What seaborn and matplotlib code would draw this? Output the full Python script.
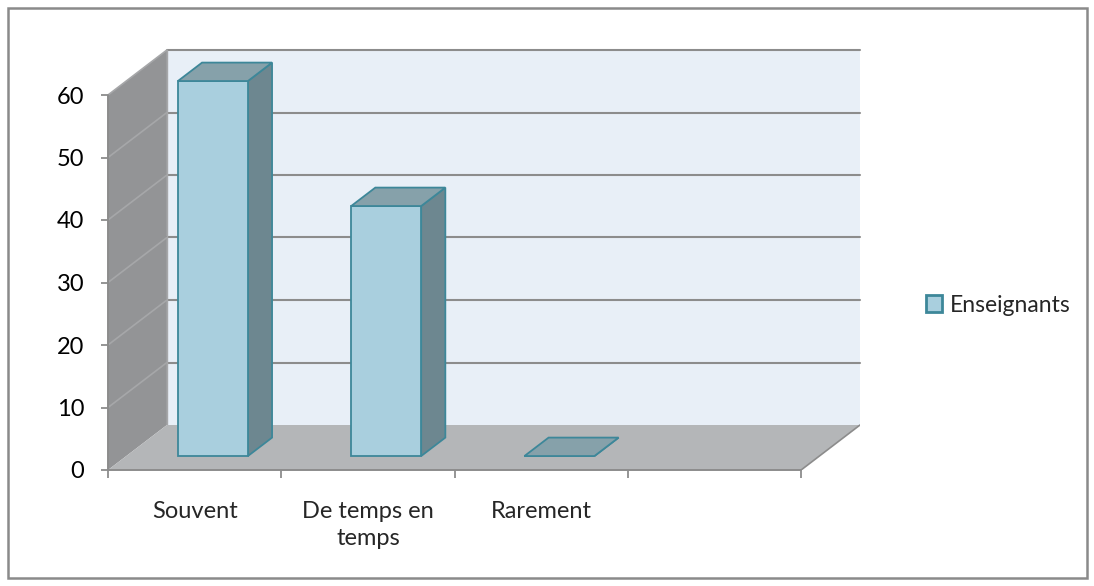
import numpy as np
import pandas as pd
import seaborn as sns
import matplotlib.pyplot as plt
from matplotlib.patches import Polygon, Rectangle, Patch

# valeurs du graphique (en %)
categories = ["Souvent", "De temps en temps", "Rarement", ""]
tick_labels = ["Souvent", "De temps en\ntemps", "Rarement", ""]
enseignants = [60, 40, 0, np.nan]
serie = "Enseignants"
y_ticks = [0, 10, 20, 30, 40, 50, 60]

df = pd.DataFrame({"cat": categories, "val": enseignants})

sns.set_theme(style="white")
plt.rcParams["font.family"] = ["Lato", "DejaVu Sans"]

# profondeur du faux 3D (en unites de donnees)
DX, DY = 0.34, 7.2
WALL = 60
BAR_W = 0.404
F0, DEPTH = 0.31, 0.41
FS = 17

fig = plt.figure(figsize=(10.94, 5.86), dpi=100)
ax = fig.add_axes([108 / 1094, (586 - 470) / 586,
                   (860 - 108) / 1094, (470 - 50) / 586])

# cadre exterieur
fig.patches.append(Rectangle((8 / 1094, 8 / 586), 1079 / 1094, 570 / 586,
                             transform=fig.transFigure, fill=False,
                             edgecolor="#8a8a8a", linewidth=1.8))

grid_c = "#8c8c8c"
x_left, x_right = -0.5, 3.5
# paroi du fond
ax.add_patch(Polygon([(x_left + DX, DY), (x_right + DX, DY),
                      (x_right + DX, WALL + DY), (x_left + DX, WALL + DY)],
                     closed=True, facecolor="#e8eff7", edgecolor="none",
                     zorder=0))
# paroi laterale
ax.add_patch(Polygon([(x_left, 0), (x_left + DX, DY), (x_left + DX, WALL + DY),
                      (x_left, WALL)], closed=True, facecolor="#939496",
                     edgecolor="none", zorder=1))
for v in y_ticks[1:]:
    ax.plot([x_left + DX, x_right + DX], [v + DY, v + DY], color=grid_c,
            lw=1.5, zorder=1.5, clip_on=False)
    ax.plot([x_left, x_left + DX], [v, v + DY], color="#a6a7a9", lw=1.2,
            zorder=1.5, clip_on=False)
ax.plot([x_left + DX, x_left + DX], [DY, WALL + DY], color="#a6a7a9", lw=1.0,
        zorder=1.6)
# sol
ax.add_patch(Polygon([(x_left, 0), (x_right, 0), (x_right + DX, DY),
                      (x_left + DX, DY)], closed=True, facecolor="#b4b6b8",
                     edgecolor="none", zorder=2))
ax.plot([x_right, x_right + DX], [0, DY], color=grid_c, lw=1.2, zorder=2.1)
ax.plot([x_left, x_right], [0, 0], color=grid_c, lw=1.4, zorder=2.1,
        clip_on=False)

# barres
edge = "#3d8799"
sns.barplot(data=df, x="cat", y="val", width=BAR_W, color="#a9cfde",
            saturation=1, edgecolor=edge, linewidth=1.3, ax=ax, zorder=4)
bars = list(ax.containers[0])
for p in bars:
    h = p.get_height()
    if np.isnan(h):
        continue
    x0 = p.get_x() + F0 * DX
    y0 = F0 * DY
    p.set_x(x0)
    p.set_y(y0)
    w = p.get_width()
    ddx, ddy = DEPTH * DX, DEPTH * DY
    ax.add_patch(Polygon([(x0 + w, y0), (x0 + w + ddx, y0 + ddy),
                          (x0 + w + ddx, y0 + h + ddy), (x0 + w, y0 + h)],
                         closed=True, facecolor="#6d8790", edgecolor=edge,
                         linewidth=1.3, zorder=3.9))
    ax.add_patch(Polygon([(x0, y0 + h), (x0 + w, y0 + h),
                          (x0 + w + ddx, y0 + h + ddy), (x0 + ddx, y0 + h + ddy)],
                         closed=True, facecolor="#86a1aa", edgecolor=edge,
                         linewidth=1.3, zorder=4.1))

ax.set_xlim(-0.5, 3.5 + DX)
ax.set_ylim(0, WALL + DY)
for s in ax.spines.values():
    s.set_visible(False)
ax.set_xlabel("")
ax.set_ylabel("")

# axe vertical
ax.plot([x_left, x_left], [0, WALL], color=grid_c, lw=1.4, zorder=2.2,
        clip_on=False)
ax.set_yticks(y_ticks)
ax.set_yticklabels([str(v) for v in y_ticks])
ax.tick_params(axis="y", left=True, length=5, width=1.3, color=grid_c,
               labelsize=FS, pad=12, labelcolor="#000000")

# axe horizontal : traits aux limites, etiquettes au centre
ax.set_xticks([-0.5, 0.5, 1.5, 2.5, 3.5])
ax.set_xticklabels([])
ax.set_xticks([0, 1, 2, 3], minor=True)
ax.set_xticklabels(tick_labels, minor=True, fontsize=FS, va="top",
                   linespacing=1.4)
ax.tick_params(axis="x", which="major", bottom=True, length=6, width=1.3,
               color=grid_c)
ax.tick_params(axis="x", which="minor", bottom=False, length=0, pad=22)

leg = fig.legend(handles=[Patch(facecolor="#a9cfde", edgecolor=edge,
                                linewidth=2.0, label=serie)],
                 loc="center left", bbox_to_anchor=(905 / 1094, 1 - 305 / 586),
                 frameon=False, fontsize=16.5, handlelength=0.7,
                 handleheight=0.7, handletextpad=0.35)

fig.savefig("out.png", dpi=100)
